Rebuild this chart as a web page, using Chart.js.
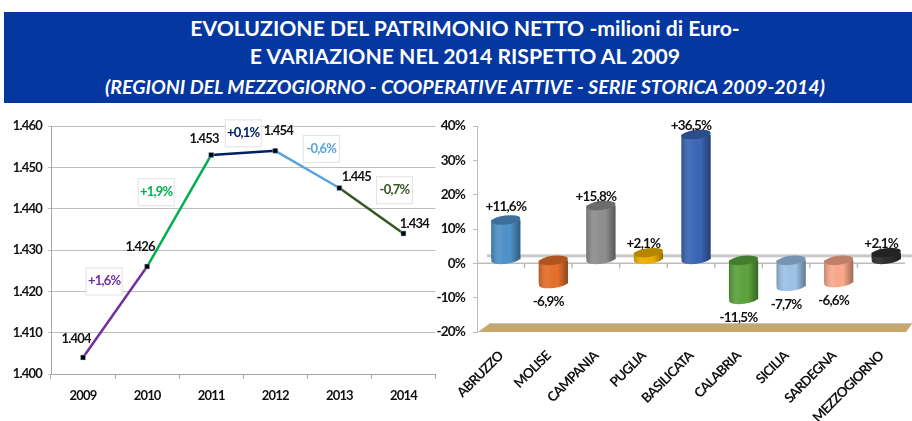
<!DOCTYPE html>
<html>
<head>
<meta charset="utf-8">
<title>Patrimonio netto</title>
<script src="https://cdn.jsdelivr.net/npm/chart.js@4"></script>
<style>
html, body { margin: 0; padding: 0; background: #fff; }
body { width: 912px; height: 421px; overflow: hidden; position: relative; }
#header { position: absolute; left: 4px; top: 12px; width: 908px; height: 91px; background: #0437a0; color: #fff; text-align: center; font-family: Lato, sans-serif; font-weight: bold; }
#header div { position: absolute; left: 0; width: 100%; padding-left: 14px; box-sizing: border-box; white-space: nowrap; }
#line1 { top: 3px; font-size: 21.2px; line-height: 26px; }
#line2 { top: 31px; font-size: 21.2px; line-height: 26px; }
#line3 { top: 62px; font-size: 19.6px; line-height: 26px; font-style: italic; }
canvas { position: absolute; }
#lineChart { left: 0; top: 105px; }
#barChart { left: 436px; top: 105px; }
</style>
</head>
<body>
<div id="header">
  <div id="line1">EVOLUZIONE DEL PATRIMONIO NETTO -milioni di Euro-</div>
  <div id="line2">E VARIAZIONE NEL 2014 RISPETTO AL 2009</div>
  <div id="line3">(REGIONI DEL MEZZOGIORNO - COOPERATIVE ATTIVE - SERIE STORICA 2009-2014)</div>
</div>
<canvas id="lineChart" width="440" height="316"></canvas>
<canvas id="barChart" width="476" height="316"></canvas>
<script>
const years = ['2009', '2010', '2011', '2012', '2013', '2014'];
const patrimonio = [1404, 1426, 1453, 1454, 1445, 1434];
const variazioni = ['+1,6%', '+1,9%', '+0,1%', '-0,6%', '-0,7%'];
const segmentColors = ['#7030a0', '#00b050', '#002060', '#5ba3dc', '#375623'];

const regioni = ['ABRUZZO', 'MOLISE', 'CAMPANIA', 'PUGLIA', 'BASILICATA', 'CALABRIA', 'SICILIA', 'SARDEGNA', 'MEZZOGIORNO'];
const variazione2014 = [11.6, -6.9, 15.8, 2.1, 36.5, -11.5, -7.7, -6.6, 2.1];
const barColors = ['#4f93c9', '#e6702b', '#8f8f8f', '#f0b000', '#3a66b5', '#5da33d', '#9dc3e8', '#fba98c', '#2e2e2e'];

const FONT = 'Lato, sans-serif';

// label nudges, px from the point they belong to
const valueNudge = [[-7, -19], [-7, -20], [-7, -16], [3, -20], [17, -11], [11, -10]];
const boxNudge = [[-11, -31], [-23, -19], [0, -20], [14, -21], [23, -21]];

// the original font is much narrower than anything installed
const tightText = {
    id: 'tightText',
    beforeDraw(chart) {
        chart.ctx.letterSpacing = '-0.8px';
    }
};

const lineLabels = {
    id: 'lineLabels',
    afterDatasetsDraw(chart) {
        const ctx = chart.ctx;
        const xs = chart.scales.x, ys = chart.scales.y;
        ctx.save();
        ctx.textAlign = 'center';
        ctx.textBaseline = 'middle';
        ctx.font = 'bold 13px ' + FONT;
        patrimonio.forEach((v, i) => {
            ctx.fillStyle = '#111';
            ctx.fillText((v / 1000).toFixed(3), xs.getPixelForValue(i) + valueNudge[i][0], ys.getPixelForValue(v) + valueNudge[i][1]);
        });
        variazioni.forEach((t, i) => {
            const cx = (xs.getPixelForValue(i) + xs.getPixelForValue(i + 1)) / 2 + boxNudge[i][0];
            const cy = (ys.getPixelForValue(patrimonio[i]) + ys.getPixelForValue(patrimonio[i + 1])) / 2 + boxNudge[i][1];
            ctx.fillStyle = '#fff';
            ctx.strokeStyle = '#e2e2e2';
            ctx.lineWidth = 1;
            ctx.fillRect(cx - 18, cy - 13, 36, 27);
            ctx.strokeRect(cx - 18, cy - 13, 36, 27);
            ctx.fillStyle = segmentColors[i];
            ctx.fillText(t, cx, cy);
        });
        ctx.restore();
    }
};

new Chart(document.getElementById('lineChart'), {
    type: 'line',
    data: {
        labels: years,
        datasets: [{
            data: patrimonio,
            borderWidth: 2.5,
            pointStyle: 'rect',
            pointRadius: 3.5,
            pointBackgroundColor: '#000',
            pointBorderColor: '#9cc3e6',
            pointBorderWidth: 0.5,
            tension: 0,
            segment: { borderColor: c => segmentColors[c.p0DataIndex] }
        }]
    },
    options: {
        responsive: false,
        animation: false,
        layout: { padding: { top: 21, right: 3, left: 0, bottom: 0 } },
        plugins: { legend: { display: false }, tooltip: { enabled: false } },
        scales: {
            x: {
                offset: true,
                afterFit: s => { s.height = 47; },
                grid: { drawOnChartArea: false, offset: true, color: '#a6a6a6', tickLength: 5 },
                border: { color: '#a6a6a6' },
                ticks: { color: '#111', padding: 9, font: { family: FONT, size: 13, weight: 'bold' } }
            },
            y: {
                min: 1400,
                max: 1460,
                afterFit: s => { s.width = 51; },
                grid: { color: '#bfbfbf', tickLength: 3 },
                border: { color: '#a6a6a6' },
                ticks: {
                    stepSize: 10,
                    color: '#111',
                    padding: 6,
                    font: { family: FONT, size: 13, weight: 'bold' },
                    callback: v => (v / 1000).toFixed(3)
                }
            }
        }
    },
    plugins: [tightText, lineLabels]
});

function fmtPct(v) {
    return (v > 0 ? '+' : '') + v.toFixed(1).replace('.', ',') + '%';
}

// 3d shift of the bars, same idea as the excel cylinder
const SHIFT_X = 5, SHIFT_Y = -3.5, TILT = -0.12, RY = 4.5;

const cylinders = {
    id: 'cylinders',
    beforeDatasetsDraw(chart) {
        const ctx = chart.ctx, area = chart.chartArea;
        const y0 = chart.scales.y.getPixelForValue(0);
        const yFloor = chart.scales.y.getPixelForValue(-20);
        ctx.save();
        // back wall line
        ctx.fillStyle = '#c9c9c9';
        ctx.fillRect(area.left + 10, y0 - 9, 476 - area.left - 10, 3);
        // floor
        ctx.fillStyle = '#c6a76c';
        ctx.beginPath();
        ctx.moveTo(area.left + 1, yFloor);
        ctx.lineTo(area.left + 12, yFloor - 8);
        ctx.lineTo(476, yFloor - 8);
        ctx.lineTo(area.right + 1, yFloor);
        ctx.closePath();
        ctx.fill();
        ctx.fillStyle = '#c4c4c4';
        ctx.fillRect(area.left + 12, yFloor - 9, 476 - area.left - 12, 1);
        // front axis at zero
        ctx.strokeStyle = '#bdbdbd';
        ctx.lineWidth = 1.5;
        ctx.beginPath();
        ctx.moveTo(area.left, y0);
        ctx.lineTo(area.right, y0);
        regioni.forEach((r, i) => {
            const tx = area.left + (i + 1) * (area.right - area.left) / regioni.length;
            if (i < regioni.length - 1) {
                ctx.moveTo(tx, y0);
                ctx.lineTo(tx, y0 + 5);
            }
        });
        ctx.stroke();
        ctx.restore();

        // bottom caps go under the bars
        ctx.save();
        ctx.translate(SHIFT_X, SHIFT_Y);
        chart.getDatasetMeta(0).data.forEach((bar, i) => {
            const bottom = Math.max(bar.y, bar.base);
            ctx.fillStyle = barColors[i];
            ctx.beginPath();
            ctx.ellipse(bar.x, bottom, bar.width / 2, RY, TILT, 0, Math.PI * 2);
            ctx.fill();
        });
    },
    afterDatasetsDraw(chart) {
        const ctx = chart.ctx;
        chart.getDatasetMeta(0).data.forEach((bar, i) => {
            const top = Math.min(bar.y, bar.base);
            const bottom = Math.max(bar.y, bar.base);
            const left = bar.x - bar.width / 2, right = bar.x + bar.width / 2;
            // round shading across the body
            const g = ctx.createLinearGradient(left, 0, right, 0);
            g.addColorStop(0, 'rgba(0,0,0,0.22)');
            g.addColorStop(0.3, 'rgba(255,255,255,0.06)');
            g.addColorStop(0.65, 'rgba(0,0,0,0)');
            g.addColorStop(1, 'rgba(0,0,0,0.38)');
            ctx.fillStyle = g;
            ctx.beginPath();
            ctx.rect(left, top, bar.width, bottom - top);
            ctx.ellipse(bar.x, bottom, bar.width / 2, RY, TILT, 0, Math.PI);
            ctx.fill();
            // top cap
            ctx.fillStyle = barColors[i];
            ctx.beginPath();
            ctx.ellipse(bar.x, top, bar.width / 2, RY, TILT, 0, Math.PI * 2);
            ctx.fill();
            ctx.fillStyle = 'rgba(0,0,0,0.24)';
            ctx.fill();
        });
        ctx.restore();

        // value labels
        ctx.save();
        ctx.font = 'bold 13.5px ' + FONT;
        ctx.fillStyle = '#111';
        ctx.textAlign = 'center';
        ctx.textBaseline = 'middle';
        chart.getDatasetMeta(0).data.forEach((bar, i) => {
            const v = variazione2014[i];
            const dy = v > 0 ? (i === 0 ? -17 : -12) : 15;
            ctx.fillText(fmtPct(v), bar.x + (i === 0 ? 5 : 0), bar.y + dy);
        });
        ctx.restore();
    }
};

new Chart(document.getElementById('barChart'), {
    type: 'bar',
    data: {
        labels: regioni,
        datasets: [{
            data: variazione2014,
            backgroundColor: barColors,
            borderWidth: 0,
            barPercentage: 0.82,
            categoryPercentage: 0.75,
            clip: false
        }]
    },
    options: {
        responsive: false,
        animation: false,
        layout: { padding: { top: 21, right: 7, left: 0, bottom: 0 } },
        plugins: { legend: { display: false }, tooltip: { enabled: false } },
        scales: {
            x: {
                afterFit: s => { s.height = 89; },
                grid: { display: false },
                border: { display: false },
                ticks: {
                    color: '#111',
                    autoSkip: false,
                    minRotation: 45,
                    maxRotation: 45,
                    padding: 8,
                    font: { family: FONT, size: 13.5, weight: 'bold' }
                }
            },
            y: {
                min: -20,
                max: 40,
                afterFit: s => { s.width = 41; },
                grid: { drawOnChartArea: false, color: '#bdbdbd', tickLength: 4 },
                border: { color: '#bdbdbd' },
                ticks: {
                    stepSize: 10,
                    color: '#111',
                    padding: 8,
                    font: { family: FONT, size: 13.5, weight: 'bold' },
                    callback: v => v + '%'
                }
            }
        }
    },
    plugins: [tightText, cylinders]
});
</script>
</body>
</html>
